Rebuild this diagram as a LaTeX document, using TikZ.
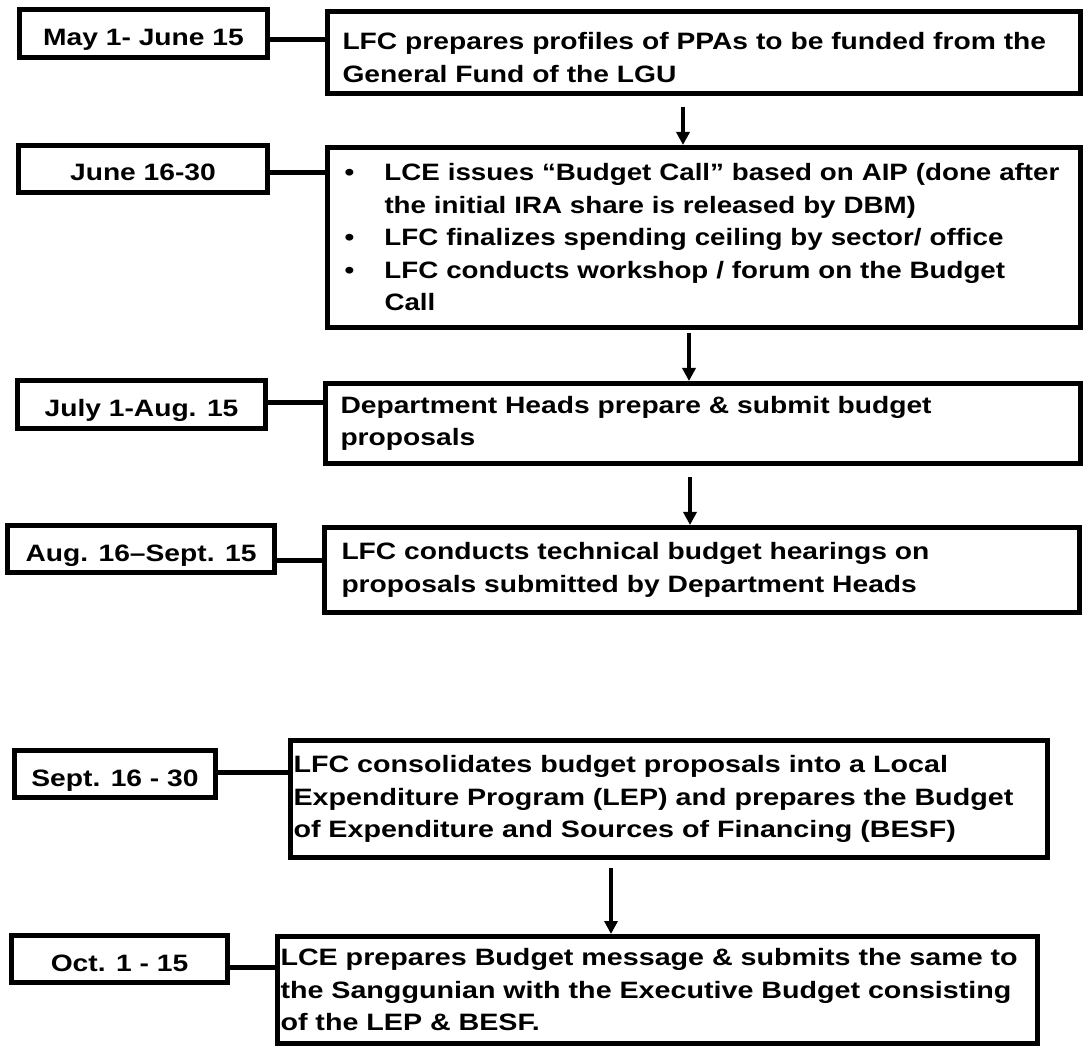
\documentclass[tikz,border=0pt]{standalone}
\usepackage{fontspec}
\setmainfont{Liberation Sans}[FakeStretch=1.19]
\newfontfamily\narrowfont{Liberation Sans}[FakeStretch=1.17]
\newfontfamily\widefont{Liberation Sans}[FakeStretch=1.21]
\usetikzlibrary{arrows.meta}
\begin{document}
\begin{tikzpicture}[x=1pt,y=-1pt,
  font=\fontsize{23.7}{32.5}\selectfont\bfseries,
  datebox/.style={draw, line width=5pt, anchor=north west, inner sep=0pt, text height=24pt, text depth=0pt},
  mainbox/.style={draw, line width=5pt, anchor=north west, inner ysep=0pt, align=left},
  conn/.style={line width=5pt},
  flow/.style={line width=3.5pt, -{Triangle[width=13pt,length=13pt]}}]
\path[use as bounding box, fill=white] (0,0) rectangle (1085,1048);

% date boxes
\node[datebox, minimum width=248pt, minimum height=48pt] (d1) at (17,7) {May 1- June 15};
\node[datebox, minimum width=249pt, minimum height=47pt] (d2) at (16,143) {June 16-30};
\node[datebox, minimum width=248pt, minimum height=48pt] (d3) at (15,378) {July 1-Aug. 15};
\node[datebox, minimum width=267pt, minimum height=47pt] (d4) at (5,523) {Aug. 16–Sept. 15};
\node[datebox, minimum width=201pt, minimum height=47pt] (d5) at (12,748) {Sept. 16 - 30};
\node[datebox, minimum width=216pt, minimum height=47pt] (d6) at (9,933) {Oct. 1 - 15};

% main boxes
\node[mainbox, minimum width=753pt, minimum height=82pt, inner xsep=15pt, text width=723pt] (m1) at (325,9)
  {\rule{0pt}{27pt}LFC prepares profiles of PPAs to be funded from the\\General Fund of the LGU};
\node[mainbox, minimum width=753pt, minimum height=180pt, inner xsep=17pt, text width=719pt,
      font=\fontsize{23.7}{32.5}\narrowfont\bfseries] (m2) at (325,145)
  {\makebox[40pt][l]{•}LCE issues “Budget Call” based on AIP (done after\\
   \hspace*{40pt}the initial IRA share is released by DBM)\\
   \makebox[40pt][l]{•}LFC finalizes spending ceiling by sector/ office\\
   \makebox[40pt][l]{•}LFC conducts workshop / forum on the Budget\\
   \hspace*{40pt}Call};
\node[mainbox, minimum width=755pt, minimum height=80pt, inner xsep=15pt, text width=725pt] (m3) at (323,381)
  {Department Heads prepare \& submit budget\\proposals};
\node[mainbox, minimum width=755pt, minimum height=85pt, inner xsep=17pt, text width=721pt] (m4) at (322,525)
  {LFC conducts technical budget hearings on\\proposals submitted by Department Heads};
\node[mainbox, minimum width=757pt, minimum height=117pt, inner xsep=3pt, text width=751pt,
      font=\fontsize{23.7}{32.5}\widefont\bfseries] (m5) at (288,738)
  {LFC consolidates budget proposals into a Local\\Expenditure Program (LEP) and prepares the Budget\\of Expenditure and Sources of Financing (BESF)};
\node[mainbox, minimum width=760pt, minimum height=107pt, inner xsep=3pt, text width=754pt,
      font=\fontsize{23.7}{32.5}\widefont\bfseries] (m6) at (275,934)
  {LCE prepares Budget message \& submits the same to\\the Sanggunian with the Executive Budget consisting\\of the LEP \& BESF.};

% horizontal connectors
\coordinate (c1) at ([yshift=-6.5pt]d1.east);
\coordinate (c2) at ([yshift=-4pt]d2.east);
\coordinate (c3) at ([yshift=2pt]d3.east);
\coordinate (c4) at ([yshift=-11pt]d4.east);
\coordinate (c5) at ([yshift=2pt]d5.east);
\coordinate (c6) at ([yshift=-8pt]d6.east);
\draw[conn] (c1) -- (c1 -| m1.west);
\draw[conn] (c2) -- (c2 -| m2.west);
\draw[conn] (c3) -- (c3 -| m3.west);
\draw[conn] (c4) -- (c4 -| m4.west);
\draw[conn] (c5) -- (c5 -| m5.west);
\draw[conn] (c6) -- (c6 -| m6.west);

% vertical arrows
\coordinate (a1) at ([xshift=-21pt,yshift=-11pt]m1.south);
\coordinate (a2) at ([xshift=-15pt,yshift=-3pt]m2.south);
\coordinate (a3) at ([xshift=-13pt,yshift=-11pt]m3.south);
\coordinate (a5) at ([xshift=-58pt,yshift=-8pt]m5.south);
\draw[flow] (a1) -- (a1 |- m2.north);
\draw[flow] (a2) -- (a2 |- m3.north);
\draw[flow] (a3) -- (a3 |- m4.north);
\draw[flow] (a5) -- (a5 |- m6.north);
\end{tikzpicture}
\end{document}
